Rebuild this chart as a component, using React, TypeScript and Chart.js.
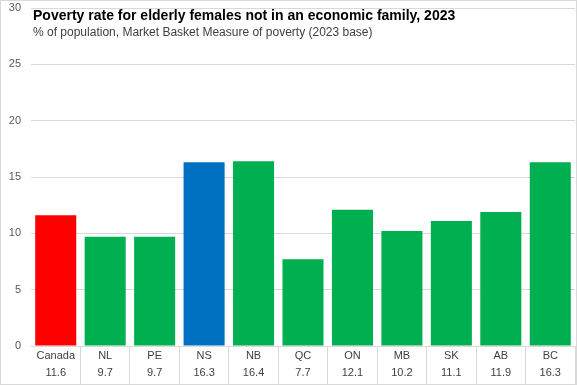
import React, { useEffect, useRef } from "react";
import { Chart, registerables } from "chart.js";

Chart.register(...registerables);

const categories = ["Canada", "NL", "PE", "NS", "NB", "QC", "ON", "MB", "SK", "AB", "BC"];
const values = [11.6, 9.7, 9.7, 16.3, 16.4, 7.7, 12.1, 10.2, 11.1, 11.9, 16.3];
const barColors = ["#FF0000", "#00B050", "#00B050", "#0070C0", "#00B050", "#00B050", "#00B050", "#00B050", "#00B050", "#00B050", "#00B050"];
const valueLabels = ["11.6", "9.7", "9.7", "16.3", "16.4", "7.7", "12.1", "10.2", "11.1", "11.9", "16.3"];
const titleText = "Poverty rate for elderly females not in an economic family, 2023";
const subtitleText = "% of population, Market Basket Measure of poverty (2023 base)";
const yMin = 0;
const yMax = 30;
const yStep = 5;

const FONT = "'Liberation Sans', Arial, sans-serif";

const overlayPlugin = {
  id: "overlay",
  afterDraw(chart: any) {
    const ctx = chart.ctx;
    ctx.save();
    ctx.textAlign = "left";
    ctx.textBaseline = "middle";
    ctx.fillStyle = "#000000";
    ctx.font = `bold 14px ${FONT}`;
    ctx.fillText(titleText, 33, 16);
    ctx.fillStyle = "#404040";
    ctx.font = `12px ${FONT}`;
    ctx.fillText(subtitleText, 33, 33);
    ctx.strokeStyle = "#d9d9d9";
    ctx.lineWidth = 1;
    ctx.strokeRect(0.5, 0.5, chart.width - 1, chart.height - 1);
    ctx.restore();
  },
};

export default function App() {
  const ref = useRef<HTMLCanvasElement | null>(null);
  useEffect(() => {
    if (!ref.current) return;
    const chart = new Chart(ref.current, {
      type: "bar",
      data: {
        labels: categories.map((c, i) => [c, valueLabels[i]]),
        datasets: [
          {
            data: values,
            backgroundColor: barColors,
            borderWidth: 0,
            categoryPercentage: 1,
            barPercentage: 0.83,
          },
        ],
      },
      options: {
        animation: false,
        responsive: false,
        maintainAspectRatio: false,
        layout: { padding: { left: 0, top: 8, right: 2, bottom: 0 }, autoPadding: false },
        plugins: {
          legend: { display: false },
          tooltip: { enabled: false },
          title: { display: false },
        },
        scales: {
          x: {
            offset: true,
            grid: {
              offset: true,
              drawOnChartArea: false,
              drawTicks: true,
              tickLength: 38,
              color: (c: any) => (c.index === 0 ? "rgba(0,0,0,0)" : "#d9d9d9"),
            },
            border: { display: true, color: "#d9d9d9" },
            ticks: {
              padding: -36.5,
              color: "#404040",
              font: { family: FONT, size: 11, lineHeight: 1.55 },
              maxRotation: 0,
              autoSkip: false,
            },
            afterFit: (s: any) => {
              s.height = 39;
              s.paddingLeft = 0;
              s.paddingRight = 0;
            },
          },
          y: {
            min: yMin,
            max: yMax,
            ticks: {
              stepSize: yStep,
              padding: 10,
              color: "#595959",
              font: { family: FONT, size: 11 },
            },
            grid: { color: "#d9d9d9", drawTicks: false },
            border: { display: false },
            afterFit: (s: any) => {
              s.width = 31;
              s.paddingTop = 0;
              s.paddingBottom = 0;
            },
          },
        },
      },
      plugins: [overlayPlugin],
    });
    return () => chart.destroy();
  }, []);
  return (
    <div style={{ position: "fixed", left: 0, top: 0, width: 577, height: 385, background: "#fff" }}>
      <canvas ref={ref} width={577} height={385} style={{ display: "block", width: 577, height: 385 }} />
    </div>
  );
}
